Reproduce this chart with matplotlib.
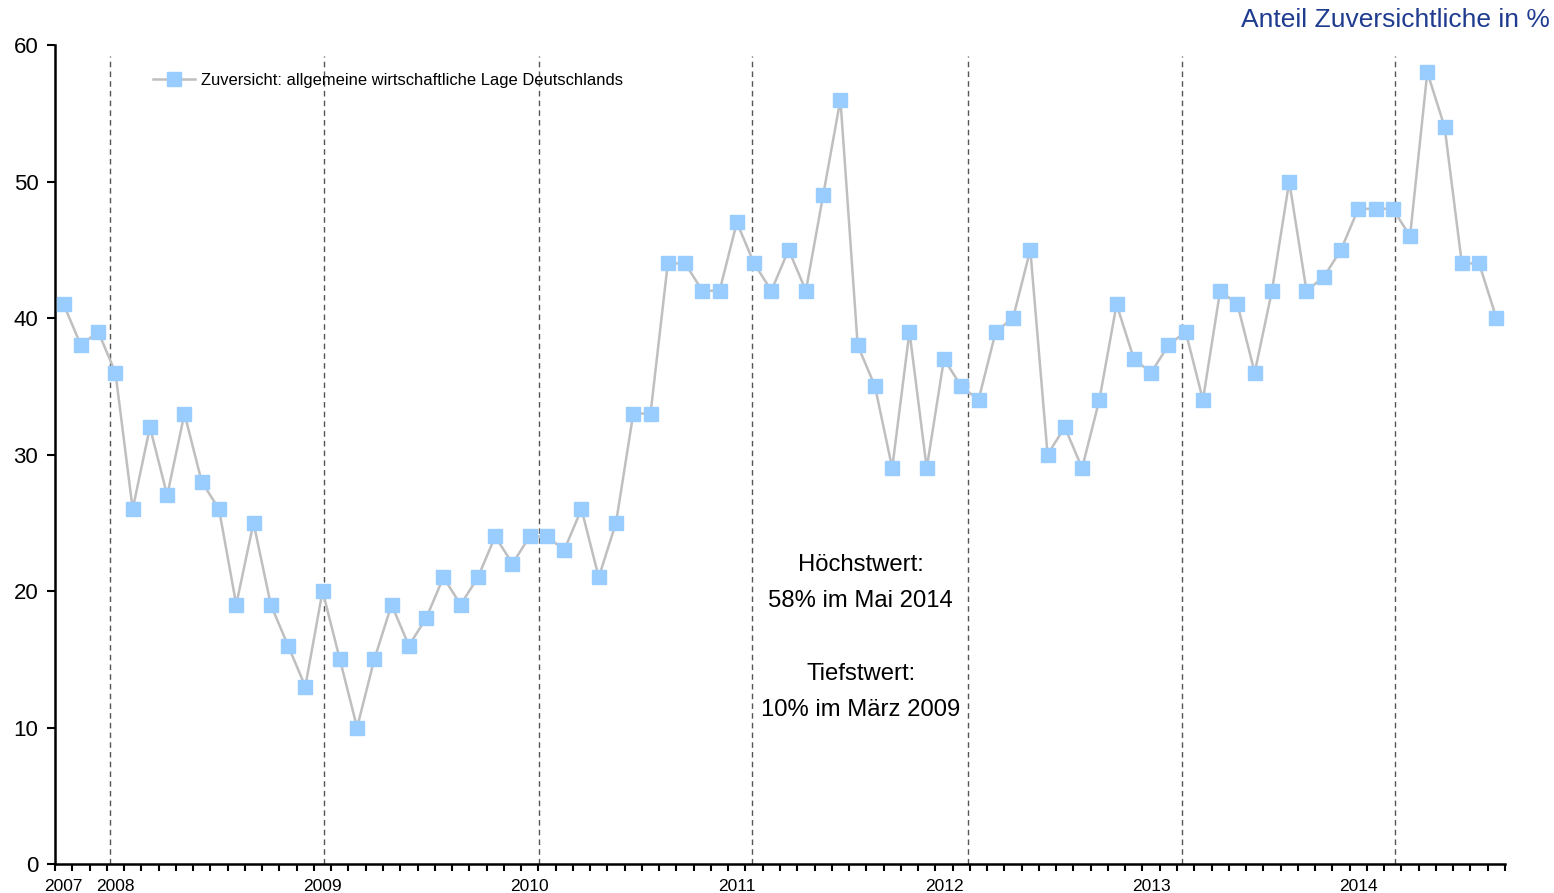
import matplotlib
matplotlib.use("Agg")
import matplotlib.pyplot as plt
import matplotlib.transforms as mtransforms
import numpy as np

plt.rcParams['font.family'] = ['Liberation Sans', 'DejaVu Sans']

# Monthly values, Oct 2007 - Sep 2014
values = [41, 38, 39, 36, 26, 32, 27, 33, 28, 26, 19, 25, 19, 16, 13, 20,
          15, 10, 15, 19, 16, 18, 21, 19, 21, 24, 22, 24, 24, 23, 26, 21,
          25, 33, 33, 44, 44, 42, 42, 47, 44, 42, 45, 42, 49, 56, 38, 35,
          29, 39, 29, 37, 35, 34, 39, 40, 45, 30, 32, 29, 34, 41, 37, 36,
          38, 39, 34, 42, 41, 36, 42, 50, 42, 43, 45, 48, 48, 48, 46, 58,
          54, 44, 44, 40]
year_labels = ['2007', '2008', '2009', '2010', '2011', '2012', '2013', '2014']
year_label_idx = [0, 3, 15, 27, 39, 51, 63, 75]
separator_pos = [2.66, 15.11, 27.51, 39.85, 52.37, 64.77, 77.1]
series_name = 'Zuversicht: allgemeine wirtschaftliche Lage Deutschlands'
title = 'Anteil Zuversichtliche in %'
note = 'Höchstwert:\n58% im Mai 2014\n\nTiefstwert:\n10% im März 2009'

fig = plt.figure(figsize=(15.54, 8.93), dpi=100)
ax = fig.add_axes([55/1554, 1 - 864/893, (1505 - 55)/1554, (864 - 45)/893])

n = len(values)
x = np.arange(n)
ax.plot(x, values, color='#bfbfbf', lw=1.8, marker='s', markersize=9.5,
        markerfacecolor='#99ccff', markeredgecolor='#99ccff', label=series_name, zorder=3)

for p in separator_pos:
    ax.plot([p, p], [0, 59.2], color='#555555', lw=1, ls=(0, (4, 3)), zorder=2)

ax.set_xlim(-0.5, n - 0.5)
ax.set_ylim(0, 60)
ax.set_yticks(range(0, 61, 10))
ax.tick_params(axis='y', direction='out', length=6, width=1.5, labelsize=16, pad=6)
ax.set_xticks(np.arange(n + 1) - 0.5)
ax.set_xticklabels([])
ax.tick_params(axis='x', direction='out', length=5, width=1.5)

for s in ['top', 'right']:
    ax.spines[s].set_visible(False)
for s in ['left', 'bottom']:
    ax.spines[s].set_linewidth(1.8)

trans = mtransforms.blended_transform_factory(ax.transData, ax.transAxes)
for lab, i in zip(year_labels, year_label_idx):
    ax.text(i, -0.027, lab, transform=trans, ha='center', va='center', fontsize=12.5)

fig.text(1550/1554, 1 - 20/893, title, ha='right', va='center', fontsize=19, color='#1f3c8f')

ax.text(46.17, 16.6, note, ha='center', va='center', fontsize=17.2, linespacing=1.85)

leg = ax.legend(loc='upper left', bbox_to_anchor=(0.0575, 0.9845), frameon=False,
                fontsize=11.9, handlelength=2.5, handletextpad=0.4)

fig.savefig('out.png', dpi=100)
